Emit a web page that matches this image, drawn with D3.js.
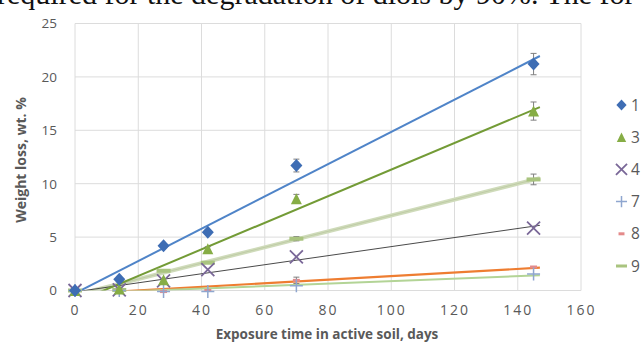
<!DOCTYPE html>
<html><head><meta charset="utf-8">
<script src="https://cdn.jsdelivr.net/npm/d3@7"></script>
<style>
html,body{margin:0;padding:0;background:#fff;}
svg{display:block;}
</style></head>
<body>
<svg id="c" width="641" height="345"></svg>
<script>
// ---- data ----
const days = [0, 14, 28, 42, 70, 145];
const seriesNames = ["1", "3", "4", "7", "8", "9"];
const s1 = [0, 1.05, 4.2, 5.45, 11.7, 21.2];
const s3 = [0, 0.15, 1.0, 3.9, 8.6, 16.8];
const s4 = [0, 0.05, 0.9, 1.95, 3.15, 5.85];
const s7 = [0, 0, -0.1, -0.1, 0.45, 1.55];
const s8 = [0, 0, -0.1, 0, 0.95, 2.2];
const s9 = [0, 0.05, 1.85, 2.6, 4.85, 10.4];
const e1 = [0, 0, 0.2, 0.2, 0.6, 1.0];
const e3 = [0, 0, 0, 0.2, 0.4, 0.85];
const e4 = [0, 0, 0, 0, 0, 0];
const e7 = [0, 0, 0, 0, 0, 0];
const e8 = [0, 0, 0, 0, 0.3, 0];
const e9 = [0, 0, 0, 0, 0.2, 0.5];
const xTicks = [0, 20, 40, 60, 80, 100, 120, 140, 160];
const yTicks = [0, 5, 10, 15, 20, 25];
const trendEnd = 147;
const xTitle = "Exposure time in active soil, days";
const yTitle = "Weight loss, wt. %";
const topText = "required for the degradation of diols by 90%. The for";

const values = [s1, s3, s4, s7, s8, s9];
const errs = [e1, e3, e4, e7, e8, e9];
const styles = [
  {marker: "diamond", mfill: "#3e6db4", line: "#4f84c8", lw: 2},
  {marker: "triangle", mfill: "#86ad45", line: "#739b36", lw: 2},
  {marker: "x", mfill: "#7a6898", line: "#4a4a4a", lw: 1},
  {marker: "plus", mfill: "#8fa6cf", line: "#b3d496", lw: 2},
  {marker: "dash", mfill: "#e48a8a", line: "#ee7d31", lw: 2.2},
  {marker: "wdash", mfill: "#a9c47f", line: "#cfdbba", lw: 4}
];

const svg = d3.select("#c");
const L = 75, R = 581, T = 23.5, B = 290.5;
const x = d3.scaleLinear().domain([0, 160]).range([L, R]);
const y = d3.scaleLinear().domain([0, 25]).range([B, T]);

// top clipped paragraph text (cut off in the reference too)
svg.append("text").attr("x", -3).attr("y", 4)
  .attr("font-family", "Liberation Serif, serif").attr("font-size", 30)
  .attr("fill", "#111").text(topText);

// gridlines
const grid = svg.append("g");
grid.selectAll(".gy").data(yTicks).join("line")
  .attr("x1", L).attr("x2", R).attr("y1", d => y(d)).attr("y2", d => y(d))
  .attr("stroke", "#dcdcdc").attr("stroke-width", 1);
grid.selectAll(".gx").data(xTicks).join("line")
  .attr("y1", T).attr("y2", B).attr("x1", d => x(d)).attr("x2", d => x(d))
  .attr("stroke", "#dcdcdc").attr("stroke-width", 1);

// axes (labels only)
const yAxis = svg.append("g").attr("transform", `translate(${L - 18},0)`)
  .call(d3.axisLeft(y).tickValues(yTicks).tickSize(0).tickPadding(0));
yAxis.select(".domain").remove();
yAxis.selectAll("text").attr("font-family", "Open Sans, sans-serif").attr("font-size", 13.5).attr("fill", "#595959");

const xAxis = svg.append("g").attr("transform", `translate(0,${B + 15})`)
  .call(d3.axisBottom(x).tickValues(xTicks).tickSize(0).tickPadding(0));
xAxis.select(".domain").remove();
xAxis.selectAll("text").attr("font-family", "Open Sans, sans-serif").attr("font-size", 14)
  .attr("letter-spacing", "2px").attr("fill", "#595959");

// titles
svg.append("text").attr("x", 327).attr("y", 339).attr("text-anchor", "middle")
  .attr("font-family", "Open Sans, sans-serif").attr("font-weight", "bold").attr("font-size", 13.5)
  .attr("fill", "#595959").text(xTitle);
svg.append("text").attr("transform", `translate(26,160) rotate(-90)`)
  .attr("text-anchor", "middle")
  .attr("font-family", "Open Sans, sans-serif").attr("font-weight", "bold").attr("font-size", 14)
  .attr("fill", "#595959").text(yTitle);

// clip for trendlines
svg.append("clipPath").attr("id", "plot").append("rect")
  .attr("x", L).attr("y", T).attr("width", R - L).attr("height", B - T);

function fit(xs, ys) {
  const mx = d3.mean(xs), my = d3.mean(ys);
  let sxy = 0, sxx = 0;
  xs.forEach((v, i) => { sxy += (v - mx) * (ys[i] - my); sxx += (v - mx) * (v - mx); });
  const b = sxy / sxx;
  return {b, a: my - b * mx};
}

const lines = svg.append("g").attr("clip-path", "url(#plot)");
const order = [5, 4, 3, 2, 1, 0];
order.forEach(i => {
  const f = fit(days, values[i]);
  const st = styles[i];
  const pts = [0, trendEnd].map(d => [x(d), y(f.a + f.b * d)]);
  lines.append("path").attr("d", d3.line()(pts)).attr("stroke", st.line)
    .attr("stroke-width", st.lw).attr("fill", "none");
  if (st.marker === "wdash") {
    lines.append("path").attr("d", d3.line()(pts)).attr("stroke", "#bfcca6")
      .attr("stroke-width", 1).attr("fill", "none");
  }
});

function drawMarker(g, type, cx, cy, color, scale) {
  const s = scale || 1;
  if (type === "diamond") {
    const w = 6 * s, h = 6.5 * s;
    g.append("path").attr("d", `M${cx},${cy - h}L${cx + w},${cy}L${cx},${cy + h}L${cx - w},${cy}Z`).attr("fill", color);
  } else if (type === "triangle") {
    const h = 11 * s, w = 11 * s;
    g.append("path").attr("d", `M${cx},${cy - h / 2}L${cx + w / 2},${cy + h / 2}L${cx - w / 2},${cy + h / 2}Z`).attr("fill", color);
  } else if (type === "x") {
    const r = 6.5 * s;
    g.append("path").attr("d", `M${cx - r},${cy - r}L${cx + r},${cy + r}M${cx - r},${cy + r}L${cx + r},${cy - r}`)
      .attr("stroke", color).attr("stroke-width", 1.8).attr("fill", "none");
  } else if (type === "plus") {
    const r = 6.5 * s;
    g.append("path").attr("d", `M${cx - r},${cy}L${cx + r},${cy}M${cx},${cy - r}L${cx},${cy + r}`)
      .attr("stroke", color).attr("stroke-width", 1.5).attr("fill", "none");
  } else if (type === "dash") {
    g.append("rect").attr("x", cx - 3.5 * s).attr("y", cy - 1.5).attr("width", 7 * s).attr("height", 3).attr("fill", color);
  } else if (type === "wdash") {
    g.append("rect").attr("x", cx - 7 * s).attr("y", cy - 2).attr("width", 14 * s).attr("height", 4).attr("fill", color);
  }
}

// error bars + markers
const mk = svg.append("g");
order.forEach(i => {
  const st = styles[i];
  days.forEach((d, j) => {
    const e = errs[i][j];
    if (e > 0) {
      const cx = x(d), y1 = y(values[i][j] + e), y2 = y(values[i][j] - e);
      mk.append("path").attr("d", `M${cx},${y1}L${cx},${y2}M${cx - 3},${y1}L${cx + 3},${y1}M${cx - 3},${y2}L${cx + 3},${y2}`)
        .attr("stroke", "#7f7f7f").attr("stroke-width", 1).attr("fill", "none");
    }
    drawMarker(mk, st.marker, x(d), y(values[i][j]), st.mfill);
  });
});

// legend
const legY = d3.scaleLinear().domain([0, 5]).range([105, 266]);
const leg = svg.append("g");
seriesNames.forEach((n, i) => {
  const st = styles[i];
  const cy = legY(i);
  if (st.marker === "wdash") {
    leg.append("rect").attr("x", 616).attr("y", cy - 1.5).attr("width", 11).attr("height", 3).attr("fill", st.mfill);
  } else {
    drawMarker(leg, st.marker, 621.5, cy, st.mfill, 0.85);
  }
  leg.append("text").attr("x", 631).attr("y", cy).attr("dy", "0.36em")
    .attr("font-family", "Open Sans, sans-serif").attr("font-size", 15.5).attr("fill", "#595959").text(n);
});
</script>
</body></html>
